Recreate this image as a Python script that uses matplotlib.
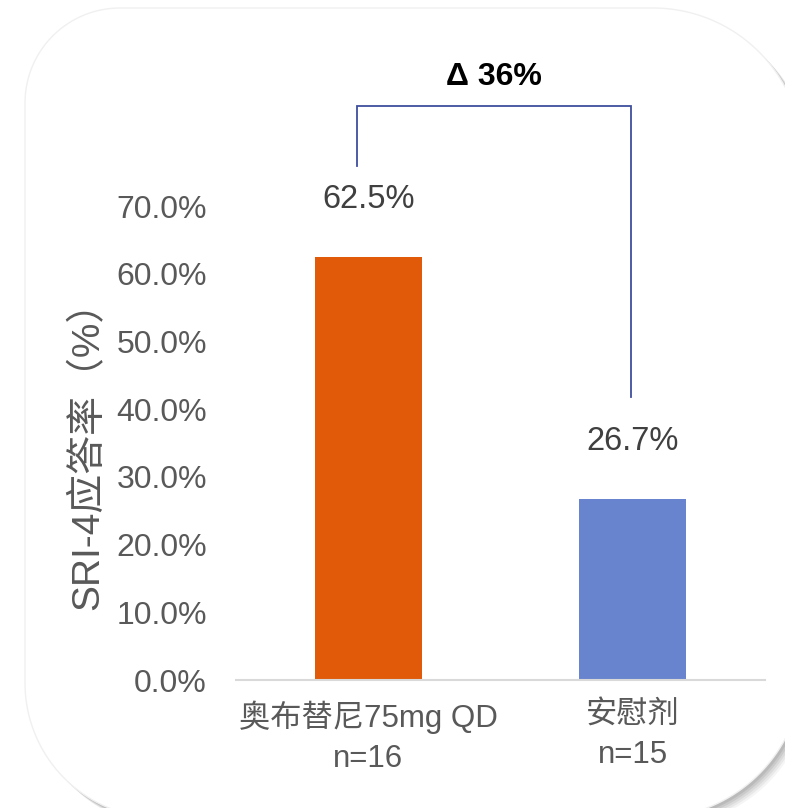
import matplotlib
matplotlib.use("Agg")
import numpy as np
import matplotlib.pyplot as plt
from matplotlib.patches import PathPatch
from matplotlib.path import Path
from matplotlib.ticker import FuncFormatter

plt.rcParams["font.family"] = ["Liberation Sans", "Noto Sans CJK SC", "DejaVu Sans"]

# data
categories = ["奥布替尼75mg QD\nn=16", "安慰剂\nn=15"]
response_rate = [0.625, 0.267]
value_labels = ["62.5%", "26.7%"]
bar_colors = ["#E05A0A", "#6884CE"]
y_ticks = [0.0, 0.1, 0.2, 0.3, 0.4, 0.5, 0.6, 0.7]
delta_label = "Δ 36%"

W, H = 785, 808


def card_path(x0, y0, x1, y1, r_tl, r_tr, r_br, r_bl):
    # rounded rectangle in pixel coords (y grows downward), one radius per corner
    pts = []
    corners = [
        ((x0 + r_tl, y0 + r_tl), r_tl, 180, 270),
        ((x1 - r_tr, y0 + r_tr), r_tr, 270, 360),
        ((x1 - r_br, y1 - r_br), r_br, 0, 90),
        ((x0 + r_bl, y1 - r_bl), r_bl, 90, 180),
    ]
    for (cx, cy), r, a0, a1 in corners:
        t = np.radians(np.linspace(a0, a1, 40))
        pts.extend(zip(cx + r * np.cos(t), cy + r * np.sin(t)))
    pts.append(pts[0])
    return Path(pts, closed=True)


fig = plt.figure(figsize=(W / 100, H / 100), dpi=100)
fig.patch.set_facecolor("white")

# background card with soft shadow
bg = fig.add_axes([0, 0, 1, 1], zorder=-10)
bg.set_xlim(0, W)
bg.set_ylim(H, 0)
bg.axis("off")
card = (25, 8, 803, 818, 95, 150, 150, 135)
for i, a in enumerate([0.04, 0.05, 0.06, 0.07, 0.08]):
    off = 9 - i * 1.6
    x0, y0, x1, y1 = card[:4]
    p = card_path(x0 + off, y0 + off, x1 + off, y1 + off, *card[4:])
    bg.add_patch(PathPatch(p, fc="black", ec="none", alpha=a))
bg.add_patch(PathPatch(card_path(*card), fc="white", ec="#F0F0F0", lw=1))

ax = fig.add_axes([236 / W, (H - 680) / H, 529 / W, 541.7 / H])
ax.set_facecolor("none")
x = list(range(len(categories)))
ax.bar(x, response_rate, width=0.405, color=bar_colors)
for xi, v, lab in zip(x, response_rate, value_labels):
    ax.text(xi, v + 0.085, lab, ha="center", va="center",
            fontsize=23.5, color="#404040")

ax.set_xlim(-0.5, 1.5)
ax.set_ylim(0, 0.8)
ax.set_yticks(y_ticks)
ax.yaxis.set_major_formatter(FuncFormatter(lambda v, p: f"{v * 100:.1f}%"))
ax.set_xticks(x)
ax.set_xticklabels(categories, fontsize=22.5, color="#595959", linespacing=1.4)
ax.tick_params(axis="y", length=0, pad=21, labelsize=23, labelcolor="#595959")
ax.tick_params(axis="x", length=0, pad=15)
for s in ["top", "right", "left"]:
    ax.spines[s].set_visible(False)
ax.spines["bottom"].set_color("#D9D9D9")
ax.spines["bottom"].set_linewidth(1.5)

fig.text(88 / W, 1 - 446 / H, "SRI-4应答率（%）", rotation=90,
         ha="center", va="center", fontsize=28, color="#595959")

# bracket
bx0, bx1 = x[0] - 0.043, x[1] - 0.007
ytop = 0.848
ax.plot([bx0, bx0, bx1, bx1], [0.759, ytop, ytop, 0.418],
        color="#3F4E9E", lw=1.3, clip_on=False, solid_joinstyle="miter")
ax.text((bx0 + bx1) / 2, ytop + 0.042, delta_label, ha="center", va="center",
        fontsize=23, fontweight="bold", color="black")

fig.savefig("out.png", dpi=100)
